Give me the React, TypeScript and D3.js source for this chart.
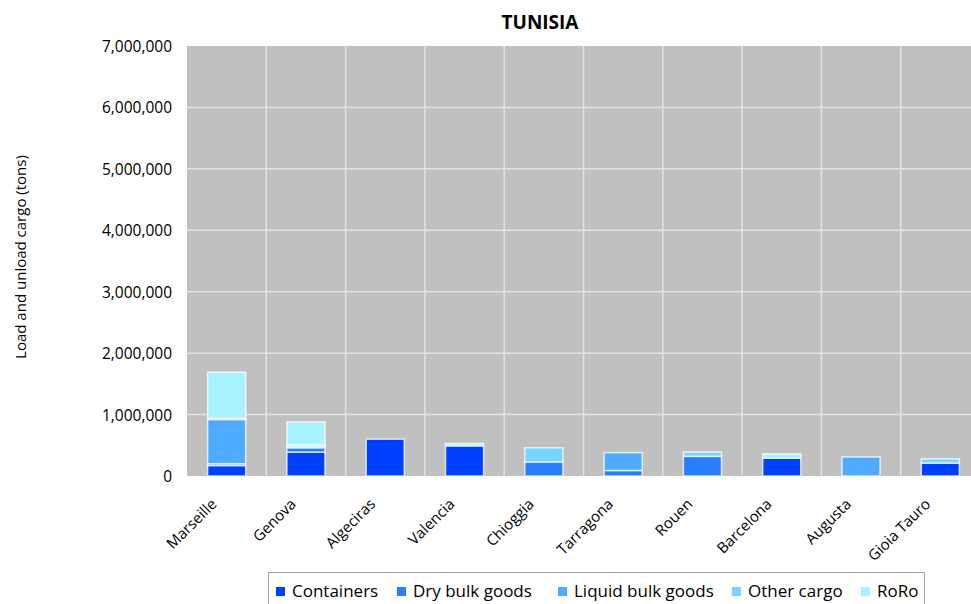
import React from "react";
import * as d3 from "d3";

// Ports and cargo tonnage (tons) per cargo type
const ports = ["Marseille", "Genova", "Algeciras", "Valencia", "Chioggia", "Tarragona", "Rouen", "Barcelona", "Augusta", "Gioia Tauro"];
const cargoTypes = ["Containers", "Dry bulk goods", "Liquid bulk goods", "Other cargo", "RoRo"];

const containers = [170000, 390000, 600000, 490000, 0, 0, 0, 290000, 0, 210000];
const dryBulk = [30000, 70000, 0, 0, 230000, 90000, 320000, 0, 0, 0];
const liquidBulk = [720000, 20000, 0, 0, 0, 290000, 0, 0, 310000, 0];
const otherCargo = [20000, 30000, 0, 0, 230000, 0, 70000, 0, 0, 70000];
const roro = [750000, 370000, 0, 40000, 0, 0, 0, 70000, 0, 0];

const yTicks = [0, 1000000, 2000000, 3000000, 4000000, 5000000, 6000000, 7000000];

const colors = ["#0041ff", "#2a7dff", "#4eabff", "#78d3ff", "#a8f2ff"];

const W = 971;
const H = 604;
const plot = { left: 187, right: 980, top: 46, bottom: 476 };
const FONT = "'Open Sans', Lato, sans-serif";

export default function App() {
  const series = [containers, dryBulk, liquidBulk, otherCargo, roro];
  const rows = ports.map((p, i) => {
    const row: Record<string, any> = { port: p };
    cargoTypes.forEach((c, k) => (row[c] = series[k][i]));
    return row;
  });
  const stacked = d3.stack<any>().keys(cargoTypes)(rows);

  const x = d3
    .scaleBand<string>()
    .domain(ports)
    .range([plot.left, plot.right])
    .paddingInner(0.52)
    .paddingOuter(0.26);
  const y = d3.scaleLinear().domain([0, 7000000]).range([plot.bottom, plot.top]);
  const step = x.step();
  const fmt = d3.format(",");

  // legend layout
  const legendX = [276, 397, 558, 732, 861];

  return (
    <svg width={W} height={H} style={{ position: "absolute", left: 0, top: 0, overflow: "hidden" }} fontFamily={FONT}>
      <rect x={0} y={0} width={W} height={H} fill="#ffffff" />
      <text x={540} y={29} textAnchor="middle" fontSize={19} fontWeight="bold" fill="#000">
        TUNISIA
      </text>

      <rect x={plot.left} y={plot.top} width={plot.right - plot.left} height={plot.bottom - plot.top} fill="#c0c0c0" />

      {yTicks.slice(1, -1).map((t) => (
        <line key={"h" + t} x1={plot.left} x2={plot.right} y1={y(t)} y2={y(t)} stroke="#e2e2e2" strokeWidth={1.5} />
      ))}
      {ports.slice(1).map((p) => {
        const gx = (x(p) as number) - step * 0.26;
        return <line key={"v" + p} x1={gx} x2={gx} y1={plot.top} y2={plot.bottom} stroke="#e2e2e2" strokeWidth={1.5} />;
      })}

      {stacked.map((s, k) => (
        <g key={s.key} fill={colors[k]}>
          {s.map((d, i) =>
            d[1] - d[0] > 0 ? (
              <rect
                key={i}
                x={x(ports[i]) as number}
                y={y(d[1])}
                width={x.bandwidth()}
                height={y(d[0]) - y(d[1])}
                stroke="rgba(255,255,255,0.75)"
                strokeWidth={1.5}
              />
            ) : null
          )}
        </g>
      ))}

      {yTicks.map((t) => (
        <text key={"yt" + t} x={172} y={y(t) + 6} textAnchor="end" fontSize={15.5} fill="#000">
          {fmt(t)}
        </text>
      ))}

      {ports.map((p) => {
        const cx = (x(p) as number) + x.bandwidth() / 2 - 9;
        const cy = plot.bottom + 29;
        return (
          <text key={"xl" + p} x={cx} y={cy} textAnchor="end" fontSize={15} fill="#000" transform={`rotate(-45 ${cx} ${cy})`}>
            {p}
          </text>
        );
      })}

      <text x={0} y={0} transform={`translate(26 257) rotate(-90)`} textAnchor="middle" fontSize={15} fill="#000">
        Load and unload cargo (tons)
      </text>

      <rect x={268.5} y={572.5} width={656} height={40} fill="#fff" stroke="#a6a6a6" strokeWidth={1} />
      {cargoTypes.map((c, k) => (
        <g key={"lg" + c}>
          <rect x={legendX[k]} y={587} width={9} height={9} fill={colors[k]} />
          <text x={legendX[k] + 16} y={597} fontSize={17} fill="#000">
            {c}
          </text>
        </g>
      ))}
    </svg>
  );
}
